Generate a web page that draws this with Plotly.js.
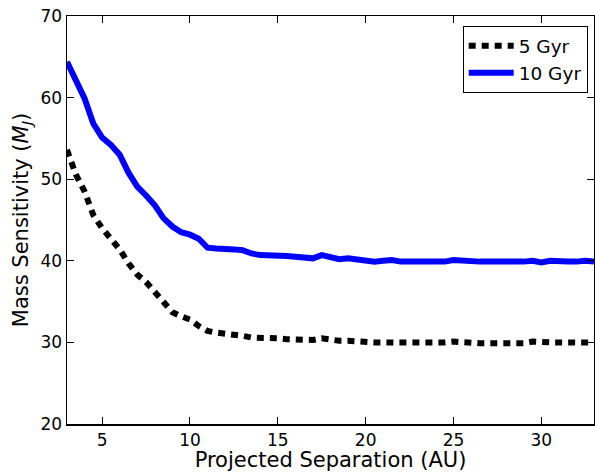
<!DOCTYPE html>
<html>
<head>
<meta charset="utf-8">
<script src="https://cdn.plot.ly/plotly-3.0.1.min.js"></script>
<style>html,body{margin:0;padding:0;background:#fff;}#chart{width:595px;height:472px;}</style>
</head>
<body>
<div id="chart"></div>
<script>
const separation = [3,3.5,4,4.5,5,5.5,6,6.5,7,7.5,8,8.5,9,9.5,10,10.5,11,11.5,12,12.5,13,13.5,14,14.5,15,15.5,16,16.5,17,17.5,18,18.5,19,19.5,20,20.5,21,21.5,22,22.5,23,23.5,24,24.5,25,25.5,26,26.5,27,27.5,28,28.5,29,29.5,30,30.5,31,31.5,32,32.5,33];
const gyr5 = [53.6,50.6,48.5,45.6,44.0,42.8,41.4,39.7,38.3,37.4,36.2,34.8,33.7,33.2,32.8,32.0,31.4,31.2,31.1,31.0,30.8,30.6,30.6,30.5,30.5,30.4,30.4,30.4,30.3,30.5,30.3,30.2,30.2,30.1,30.0,30.0,30.0,30.0,29.9,29.9,30.0,30.0,30.0,30.0,30.1,30.0,30.0,29.9,29.9,29.9,29.9,29.9,29.9,30.1,30.0,30.0,30.0,30.0,30.0,30.0,30.0];
const gyr10 = [64.4,62.1,59.9,56.8,55.1,54.2,53.0,50.8,49.1,48.0,46.8,45.2,44.2,43.5,43.2,42.7,41.6,41.5,41.5,41.4,41.3,40.9,40.7,40.7,40.6,40.6,40.5,40.4,40.3,40.7,40.5,40.2,40.3,40.2,40.0,39.9,40.0,40.1,39.9,39.9,40.0,40.0,40.0,39.9,40.1,40.0,39.9,39.9,39.9,39.9,39.8,39.8,39.9,40.0,39.8,40.0,39.9,39.9,39.9,40.0,39.9];
const seriesNames = ["5 Gyr", "10 Gyr"];
const xTicks = [5,10,15,20,25,30];
const yTicks = [20,30,40,50,60,70];

const font = "DejaVu Sans, Verdana, sans-serif";
const traces = [
  {x: separation, y: gyr5, name: seriesNames[0], mode: "lines",
   line: {color: "#000000", width: 6, dash: "7px,6px"}},
  {x: separation, y: gyr10, name: seriesNames[1], mode: "lines",
   line: {color: "#0000ff", width: 6}}
];
const axisCommon = {
  showgrid: false, zeroline: false, showline: true, linecolor: "#000", linewidth: 1.5,
  mirror: "allticks", ticks: "inside", ticklen: 7, tickwidth: 1, tickcolor: "#000",
  tickfont: {family: font, size: 17, color: "#000"}
};
const layout = {
  width: 595, height: 472,
  margin: {l: 67, r: 1, t: 16, b: 48},
  paper_bgcolor: "#fff", plot_bgcolor: "#fff",
  showlegend: true,
  legend: {x: 0.988, xanchor: "right", y: 0.975, yanchor: "top",
    bordercolor: "#000", borderwidth: 1, bgcolor: "#fff", itemwidth: 45,
    font: {family: font, size: 18.5, color: "#000"}},
  xaxis: Object.assign({}, axisCommon, {range: [3, 33], tickvals: xTicks,
    title: {text: "Projected Separation (AU)", font: {family: font, size: 21, color: "#000"}, standoff: 7}}),
  yaxis: Object.assign({}, axisCommon, {range: [20, 70], tickvals: yTicks,
    title: {text: "Mass Sensitivity (<i>M<sub>J</sub></i>)", font: {family: font, size: 21, color: "#000"}, standoff: 6}})
};
Plotly.newPlot("chart", traces, layout, {displayModeBar: false, staticPlot: true});
</script>
</body>
</html>
